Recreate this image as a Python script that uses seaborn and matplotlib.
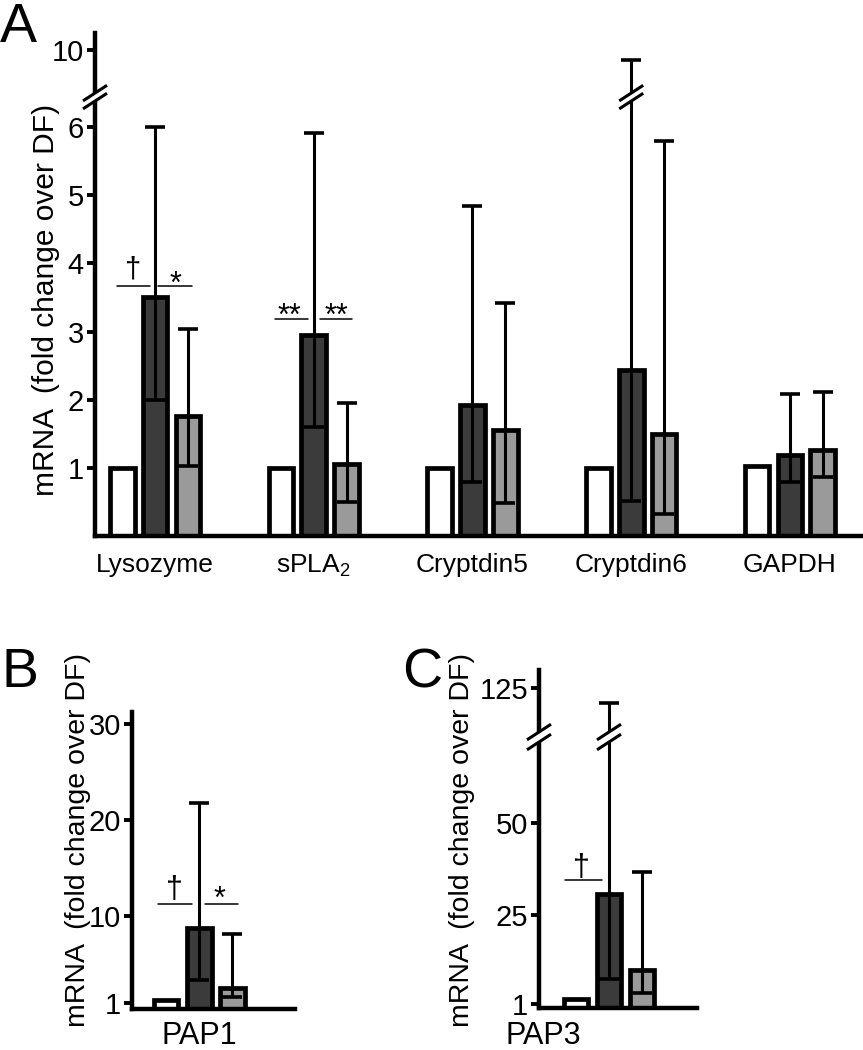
import matplotlib
matplotlib.use("Agg")
import matplotlib.pyplot as plt
import numpy as np
import pandas as pd
import seaborn as sns
from matplotlib.lines import Line2D
from matplotlib.transforms import IdentityTransform

sns.set_theme(style="white")
plt.rcParams["font.family"] = ["Liberation Sans", "DejaVu Sans"]
plt.rcParams.update({
    "axes.edgecolor": "black",
    "text.color": "black",
    "axes.labelcolor": "black",
    "xtick.color": "black",
    "ytick.color": "black",
})

# groups: DF (reference), and two treatment groups
groups = ["DF", "group2", "group3"]
bar_colors = ["white", "#3b3b3b", "#9a9a9a"]

# panel A
genes_a = ["Lysozyme", "sPLA$_\\mathregular{2}$", "Cryptdin5", "Cryptdin6", "GAPDH"]
df_mean_a = [1.0, 1.0, 1.0, 1.0, 1.02]
g2_mean_a = [3.50, 2.95, 1.92, 2.43, 1.19]
g2_low_a = [2.00, 1.60, 0.79, 0.51, 0.79]
g2_high_a = [6.00, 5.92, 4.84, 9.85, 2.09]
g3_mean_a = [1.76, 1.06, 1.55, 1.50, 1.26]
g3_low_a = [1.03, 0.50, 0.48, 0.32, 0.87]
g3_high_a = [3.03, 1.95, 3.42, 5.80, 2.11]
yticks_a = [1, 2, 3, 4, 5, 6, 10]

# panel B
gene_b = ["PAP1"]
mean_b = [1.25, 8.8, 2.5]
low_b = [np.nan, 3.35, 1.58]
high_b = [np.nan, 21.8, 8.1]
yticks_b = [1, 10, 20, 30]

# panel C
gene_c = ["PAP3"]
mean_c = [2.3, 30.8, 10.3]
low_c = [np.nan, 7.8, 4.05]
high_c = [np.nan, 120.9, 36.8]
yticks_c = [1, 25, 50, 125]

YLABEL = "mRNA  (fold change over DF)"


def make_frame(genes, means, lows, highs):
    rows = []
    for name, m, lo, hi in zip(groups, means, lows, highs):
        for gene, mv, lv, hv in zip(genes, m, lo, hi):
            rows.append({"gene": gene, "group": name, "fold": mv, "low": lv, "high": hv})
    return pd.DataFrame(rows)


def broken_scale(a, b, eps=1e-4):
    zb = a + (b - a) * eps

    def fwd(y):
        y = np.asarray(y, dtype=float)
        return np.where(y <= a, y, np.where(y >= b, zb + (y - b), a + (y - a) * eps))

    def inv(z):
        z = np.asarray(z, dtype=float)
        return np.where(z <= a, z, np.where(z >= zb, b + (z - zb), a + (z - a) / eps))

    return fwd, inv


def draw_bars(ax, data, order):
    sns.barplot(data=data, x="gene", y="fold", hue="group", order=order,
                hue_order=groups, palette=bar_colors, saturation=1, width=0.62,
                gap=0.25, errorbar=None, edgecolor="black", linewidth=3.4,
                legend=False, ax=ax)
    for container, name in zip(ax.containers, groups):
        sub = data[data["group"] == name].set_index("gene").loc[order]
        if sub["low"].isna().all():
            continue
        xs = [bar.get_x() + bar.get_width() / 2 for bar in container]
        ax.errorbar(xs, sub["fold"],
                    yerr=[sub["fold"] - sub["low"], sub["high"] - sub["fold"]],
                    fmt="none", ecolor="black", elinewidth=2.2, capsize=7.5,
                    capthick=2.6, zorder=5)


def style_axis(ax, ticks, fs):
    sns.despine(ax=ax)
    for side in ("left", "bottom"):
        ax.spines[side].set_linewidth(3.2)
        ax.spines[side].set_capstyle("projecting")
    ax.set_yticks(ticks, [str(t) for t in ticks])
    ax.tick_params(axis="y", left=True, length=6, width=2.8, pad=2, labelsize=fs)
    ax.tick_params(axis="x", bottom=False, length=0, pad=12)
    ax.set_xlabel("")


def break_mark(fig, pt, sep=8, half=12, slope=0.65):
    px, py = pt
    w = 8
    fig.add_artist(Line2D([px - w, px + w], [py - w * slope, py + w * slope],
                          transform=IdentityTransform(), color="white",
                          linewidth=sep * 0.72, solid_capstyle="butt"))
    for off in (sep / 2, -sep / 2):
        fig.add_artist(Line2D([px - half, px + half],
                              [py + off - half * slope, py + off + half * slope],
                              transform=IdentityTransform(), color="black",
                              linewidth=2.2, solid_capstyle="butt"))


def sig_line(ax, x0, x1, y):
    ax.plot([x0, x1], [y, y], color="black", linewidth=1.1)


W, H = 863, 1050
fig = plt.figure(figsize=(W / 100, H / 100), dpi=100)

# ---------------- panel A ----------------
ax_a = fig.add_axes([95 / W, 514 / H, 768 / W, 503 / H])
data_a = make_frame(genes_a, [df_mean_a, g2_mean_a, g3_mean_a],
                    [[np.nan] * 5, g2_low_a, g3_low_a],
                    [[np.nan] * 5, g2_high_a, g3_high_a])
draw_bars(ax_a, data_a, genes_a)
ax_a.set_yscale("function", functions=broken_scale(6.44, 9.31))
ax_a.set_ylim(0, 10.25)
ax_a.set_xlim(-0.378, 4.46)
style_axis(ax_a, yticks_a, 21)
ax_a.tick_params(axis="x", labelsize=19)
ax_a.set_ylabel(YLABEL, fontsize=21.5, va="center")
ax_a.yaxis.set_label_coords(-0.064, 0.469)

sig_line(ax_a, -0.24, -0.03, 3.67)
sig_line(ax_a, 0.02, 0.23, 3.67)
ax_a.text(-0.145, 3.80, "\u2020", ha="center", va="baseline", fontsize=21)
ax_a.text(0.13, 3.56, "*", ha="center", va="baseline", fontsize=22)
sig_line(ax_a, 0.754, 0.962, 3.18)
sig_line(ax_a, 1.038, 1.24, 3.18)
ax_a.text(0.849, 3.09, "**", ha="center", va="baseline", fontsize=22)
ax_a.text(1.145, 3.09, "**", ha="center", va="baseline", fontsize=22)

# ---------------- panel B ----------------
ax_b = fig.add_axes([132 / W, 41 / H, 163 / W, 297 / H])
data_b = make_frame(gene_b, [[v] for v in mean_b], [[v] for v in low_b],
                    [[v] for v in high_b])
draw_bars(ax_b, data_b, gene_b)
ax_b.set_ylim(0.33, 31.26)
ax_b.set_xlim(-0.42, 0.60)
style_axis(ax_b, yticks_b, 21)
ax_b.tick_params(axis="x", labelsize=22, pad=9)
ax_b.set_ylabel(YLABEL, fontsize=20.5, va="center")
ax_b.yaxis.set_label_coords(-0.33, 0.569)

sig_line(ax_b, -0.258, -0.044, 11.27)
sig_line(ax_b, 0.038, 0.245, 11.27)
ax_b.text(-0.157, 11.9, "\u2020", ha="center", va="baseline", fontsize=22)
ax_b.text(0.126, 10.9, "*", ha="center", va="baseline", fontsize=22)

# ---------------- panel C ----------------
ax_c = fig.add_axes([539 / W, 42 / H, 158 / W, 338 / H])
data_c = make_frame(gene_c, [[v] for v in mean_c], [[v] for v in low_c],
                    [[v] for v in high_c])
draw_bars(ax_c, data_c, gene_c)
ax_c.set_yscale("function", functions=broken_scale(73.2, 111.8))
ax_c.set_ylim(0, 129.9)
ax_c.set_xlim(-0.44, 0.553)
style_axis(ax_c, yticks_c, 21)
ax_c.set_xticks([-0.41], ["PAP3"])
ax_c.tick_params(axis="x", labelsize=22, pad=9)
ax_c.set_ylabel(YLABEL, fontsize=20.5, va="center")
ax_c.yaxis.set_label_coords(-0.49, 0.497)

sig_line(ax_c, -0.277, -0.044, 34.6)
ax_c.text(-0.176, 35.6, "\u2020", ha="center", va="baseline", fontsize=22)

# break marks on the axes and on the clipped error bars
fig.canvas.draw()
break_mark(fig, ax_a.get_yaxis_transform().transform((0, 6.44)), sep=8)
x_c6 = [b.get_x() + b.get_width() / 2 for b in ax_a.containers[1]][3]
break_mark(fig, ax_a.transData.transform((x_c6, 6.44)), sep=8)
break_mark(fig, ax_c.get_yaxis_transform().transform((0, 73.2)), sep=10)
x_p3 = [b.get_x() + b.get_width() / 2 for b in ax_c.containers[1]][0]
break_mark(fig, ax_c.transData.transform((x_p3, 73.2)), sep=10)

# panel letters
fig.text(0 / W, 1 - 2 / H, "A", fontsize=40, va="top", ha="left")
fig.text(1 / W, 1 - 647 / H, "B", fontsize=40, va="top", ha="left")
fig.text(402 / W, 1 - 647 / H, "C", fontsize=40, va="top", ha="left")

fig.savefig("out.png", dpi=100)
